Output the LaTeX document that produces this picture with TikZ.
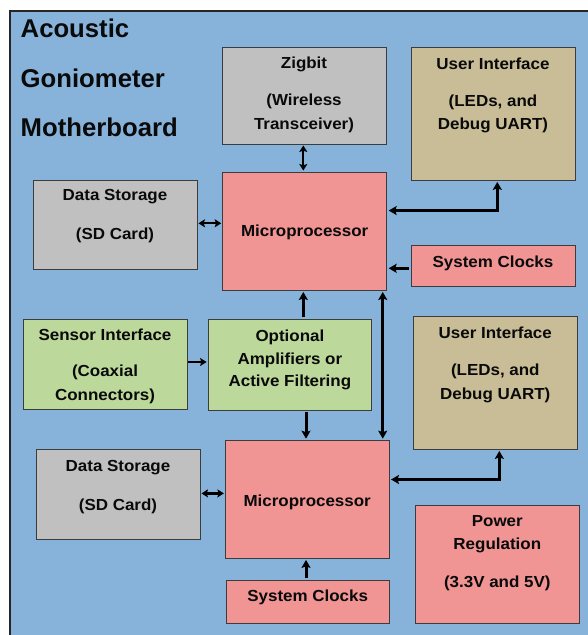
\documentclass[tikz,border=0pt]{standalone}
\usepackage{fontspec}
\usetikzlibrary{arrows.meta}
\newfontfamily\boxfontfam[FakeStretch=1.06]{Liberation Sans}
\newfontfamily\titlefontfam{Liberation Sans}
\definecolor{framefill}{RGB}{135,179,218}
\definecolor{graybox}{RGB}{192,192,192}
\definecolor{khakibox}{RGB}{200,189,150}
\definecolor{pinkbox}{RGB}{240,148,148}
\definecolor{greenbox}{RGB}{189,216,155}
\definecolor{edgecol}{RGB}{60,60,60}
\definecolor{inkcol}{RGB}{10,10,10}
\tikzset{
  box/.style={draw=edgecol, line width=0.9pt, inner sep=0pt, rectangle},
  txt/.style={anchor=base, inner sep=0pt, text=inkcol, font=\boxfontfam\bfseries\fontsize{16}{20}\selectfont},
  ttl/.style={anchor=base west, inner sep=0pt, text=inkcol, font=\titlefontfam\bfseries\fontsize{25.7}{30}\selectfont},
  thick conn/.style={line width=3pt, draw=black, shorten <=1.5pt, shorten >=1.5pt},
  thin conn/.style={line width=2.3pt, draw=black, shorten <=1pt, shorten >=1pt},
  bigtip/.tip={Stealth[length=8pt,width=9pt,inset=1.5pt]},
  smalltip/.tip={Stealth[length=6.5pt,width=8pt,inset=1.2pt]}
}
\begin{document}
\begin{tikzpicture}[x=1pt,y=-1pt]
\useasboundingbox (0,0) rectangle (588,635);
\clip (0,0) rectangle (588,635);
\fill[white] (0,0) rectangle (588,635);
\draw[fill=framefill, draw=black!85, line width=1.5pt] (10,11) rectangle (620,670);

% title
\node[ttl] (title1) at (20.5,37.3) {Acoustic};
\node[ttl] (title2) at (20.5,87.3) {Goniometer};
\node[ttl] (title3) at (20.5,136.7) {Motherboard};

% boxes
\node[box, fill=graybox, minimum width=164, minimum height=97] (zig) at (304,95.5) {};
\node[box, fill=khakibox, minimum width=164, minimum height=132.3] (ui1) at (493,113.8) {};
\node[box, fill=graybox, minimum width=164, minimum height=89] (ds1) at (115,224.5) {};
\node[box, fill=pinkbox, minimum width=164, minimum height=118] (mp1) at (304.7,231) {};
\node[box, fill=pinkbox, minimum width=164, minimum height=41.7] (clk1) at (493,265.8) {};
\node[box, fill=greenbox, minimum width=164, minimum height=90] (sens) at (105,364) {};
\node[box, fill=greenbox, minimum width=163.7, minimum height=91] (opt) at (289.9,364.5) {};
\node[box, fill=khakibox, minimum width=163.3, minimum height=132.3] (ui2) at (495.3,382.8) {};
\node[box, fill=graybox, minimum width=164, minimum height=89.7] (ds2) at (118,494.2) {};
\node[box, fill=pinkbox, minimum width=163.7, minimum height=117.3] (mp2) at (307.2,499.3) {};
\node[box, fill=pinkbox, minimum width=163.3, minimum height=43] (clk2) at (307.7,601.5) {};
\node[box, fill=pinkbox, minimum width=163.3, minimum height=118] (pwr) at (497.3,564) {};

% texts
\node[txt] (zigA) at (304,68) {Zigbit};
\node[txt] (zigB) at (304,105) {(Wireless};
\node[txt] (zigC) at (304,129.5) {Transceiver)};

\node[txt] (ui1A) at (493,69) {User Interface};
\node[txt] (ui1B) at (493,106.7) {(LEDs, and};
\node[txt] (ui1C) at (493,129.3) {Debug UART)};

\node[txt] (ds1A) at (115,200.7) {Data Storage};
\node[txt] (ds1B) at (115,239.3) {(SD Card)};

\node[txt] (mp1A) at (304.7,236.7) {Microprocessor};
\node[txt] (clk1A) at (493,267.3) {System Clocks};

\node[txt] (sensA) at (105,340) {Sensor Interface};
\node[txt] (sensB) at (105,376.7) {(Coaxial};
\node[txt] (sensC) at (105,400.7) {Connectors)};

\node[txt] (optA) at (289.9,341.7) {Optional};
\node[txt] (optB) at (289.9,364) {Amplifiers or};
\node[txt] (optC) at (289.9,386.7) {Active Filtering};

\node[txt] (ui2A) at (495.3,338.3) {User Interface};
\node[txt] (ui2B) at (495.3,375.7) {(LEDs, and};
\node[txt] (ui2C) at (495.3,399.3) {Debug UART)};

\node[txt] (ds2A) at (118,471) {Data Storage};
\node[txt] (ds2B) at (118,510) {(SD Card)};

\node[txt] (mp2A) at (307.2,506.7) {Microprocessor};
\node[txt] (clk2A) at (307.7,601.7) {System Clocks};

\node[txt] (pwrA) at (497.3,526.7) {Power};
\node[txt] (pwrB) at (497.3,549.3) {Regulation};
\node[txt] (pwrC) at (497.3,587.3) {(3.3V and 5V)};

% connectors
\draw[thin conn, {smalltip}-{smalltip}] ([xshift=-0.7]zig.south) -- ([xshift=-1.4]mp1.north);
\draw[thin conn, {smalltip}-{smalltip}] ([yshift=1.2]ds1.east) -- ([yshift=1.2]ds1.east -| mp1.west);
\draw[thick conn, {bigtip}-{bigtip}] ([yshift=-39]mp1.north east) -| ([xshift=4.3]ui1.south);
\draw[thick conn, -{bigtip}] ([yshift=-2.5]clk1.west) -- ([yshift=-2.5]clk1.west -| mp1.east);
\draw[thick conn, -{bigtip}] ([xshift=-1.4]opt.north -| mp1.south) -- ([xshift=-1.4]mp1.south);
\draw[thick conn, {bigtip}-{bigtip}] ([xshift=-4.4]mp1.south east) -- ([xshift=-4.4]mp1.south east |- mp2.north);
\draw[thin conn, -{smalltip}] ([yshift=2]sens.east) -- ([yshift=2]sens.east -| opt.west);
\draw[thick conn, -{bigtip}] ([xshift=-1.2]opt.south -| mp2.north) -- ([xshift=-1.2]mp2.north);
\draw[thin conn, {smalltip}-{smalltip}] ([yshift=0.8]ds2.east) -- ([yshift=0.8]ds2.east -| mp2.west);
\draw[thick conn, {bigtip}-{bigtip}] ([yshift=-39.3]mp2.north east) -| ([xshift=4]ui2.south);
\draw[thick conn, -{bigtip}] ([xshift=-1.7]clk2.north) -- ([xshift=-1.7]clk2.north |- mp2.south);
\end{tikzpicture}
\end{document}
